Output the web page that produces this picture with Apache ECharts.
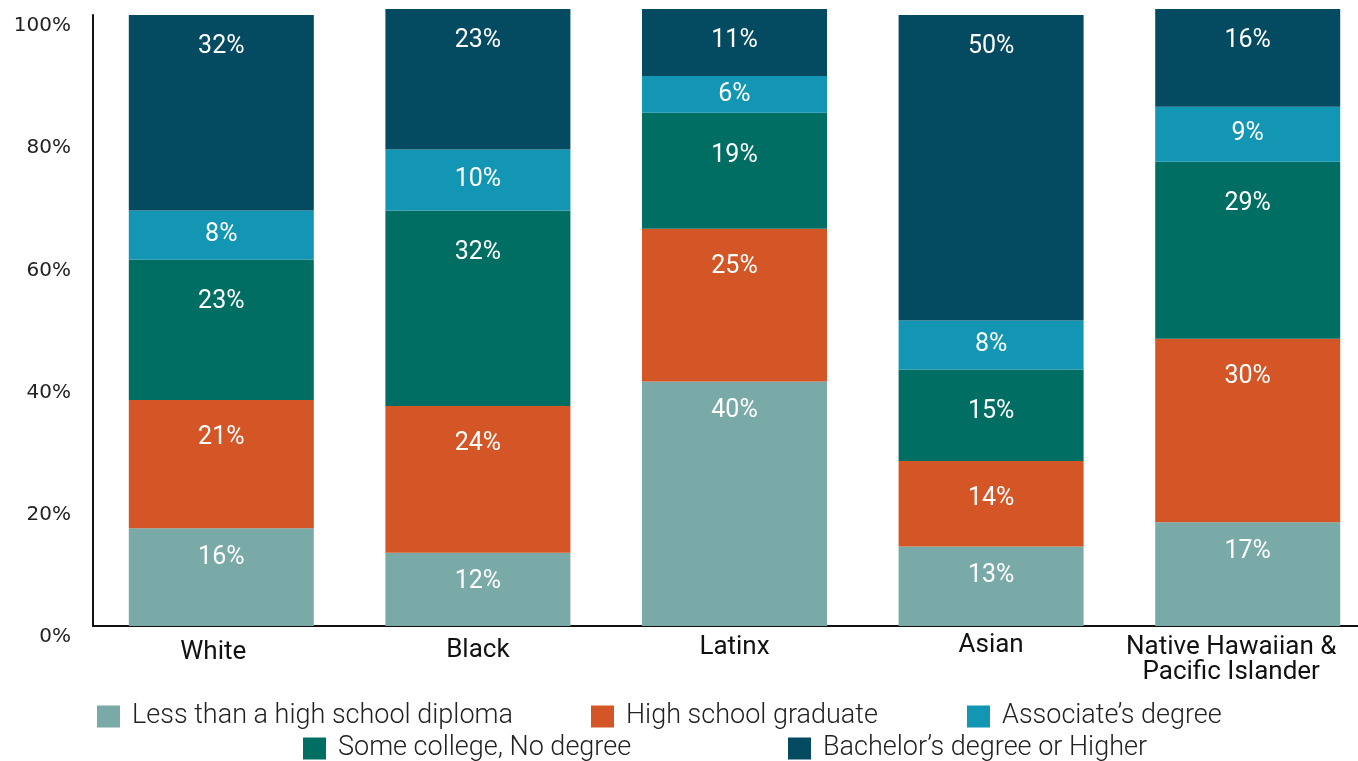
<!DOCTYPE html>
<html>
<head>
<meta charset="utf-8">
<script src="https://cdn.jsdelivr.net/npm/echarts@6/dist/echarts.min.js"></script>
<style>
html,body{margin:0;padding:0;background:#fff;overflow:hidden;width:1358px;height:761px;}
#chart{width:1380px;height:761px;}
</style>
</head>
<body>
<div id="chart"></div>
<script>
const categories = ['White', 'Black', 'Latinx', 'Asian', 'Native Hawaiian &\nPacific Islander'];
const seriesNames = ['Less than a high school diploma', 'High school graduate', 'Some college, No degree', "Associate\u2019s degree", "Bachelor\u2019s degree or Higher"];
const lessThanHS   = [16, 12, 40, 13, 17];
const hsGraduate   = [21, 24, 25, 14, 30];
const someCollege  = [23, 32, 19, 15, 29];
const associates   = [8, 10, 6, 8, 9];
const bachelors    = [32, 23, 11, 50, 16];
const yTicks = [0, 20, 40, 60, 80, 100];

const colors = ['#79aaa7', '#d45627', '#006e63', '#1395b4', '#044a61'];
const labelDist = [17, 25, 30, null, 19];
const catPad = [[12, 16, 0, 0], [10, 0, 0, 0], [7, 0, 0, 0], [5, 0, 0, 0], [7, 33, 0, 0]];
const values = [lessThanHS, hsGraduate, someCollege, associates, bachelors];

const chart = echarts.init(document.getElementById('chart'), null, {renderer: 'canvas'});

const series = values.map((arr, i) => ({
  name: seriesNames[i],
  type: 'bar',
  stack: 'total',
  barWidth: 185,
  clip: false,
  itemStyle: {color: colors[i]},
  label: {
    show: true,
    position: labelDist[i] === null ? 'inside' : 'insideTop',
    distance: labelDist[i] === null ? 5 : labelDist[i],
    color: '#ffffff',
    fontFamily: 'Roboto',
    fontSize: 25,
    formatter: p => p.value + '%'
  },
  data: arr
}));

const legendPos = [
  {left: 97, top: 703}, {left: 591, top: 703}, {left: 303, top: 735},
  {left: 967, top: 703}, {left: 788, top: 735}
];
const legends = seriesNames.map((n, i) => ({
  data: [n],
  left: legendPos[i].left,
  top: legendPos[i].top,
  orient: 'horizontal',
  itemWidth: 23,
  itemHeight: 22,
  icon: 'rect',
  selectedMode: false,
  padding: 0,
  textStyle: {fontFamily: 'Roboto', fontSize: 27, fontWeight: 300, color: '#222', lineHeight: 22, padding: [0, 0, 0, 7]}
}));

chart.setOption({
  animation: false,
  color: colors,
  grid: {left: 93, top: 15, width: 1283, height: 611, containLabel: false},
  legend: legends,
  xAxis: {
    type: 'category',
    data: categories.map((c, i) => ({value: c, textStyle: {padding: catPad[i]}})),
    axisLine: {lineStyle: {color: '#111', width: 2}},
    axisTick: {show: false},
    axisLabel: {
      interval: 0,
      margin: 2,
      color: '#111',
      fontFamily: 'Roboto',
      fontSize: 26,
      lineHeight: 25,
      verticalAlign: 'top'
    }
  },
  yAxis: {
    type: 'value',
    min: yTicks[0],
    max: yTicks[yTicks.length - 1],
    interval: yTicks[1] - yTicks[0],
    splitLine: {show: false},
    axisLine: {show: true, lineStyle: {color: '#111', width: 2}},
    axisTick: {show: false},
    axisLabel: {
      margin: 22,
      color: '#222',
      fontFamily: 'DejaVu Sans',
      fontSize: 20,
      lineHeight: 22,
      verticalAlign: 'top',
      formatter: v => v + '%'
    }
  },
  series: series
});
</script>
</body>
</html>
